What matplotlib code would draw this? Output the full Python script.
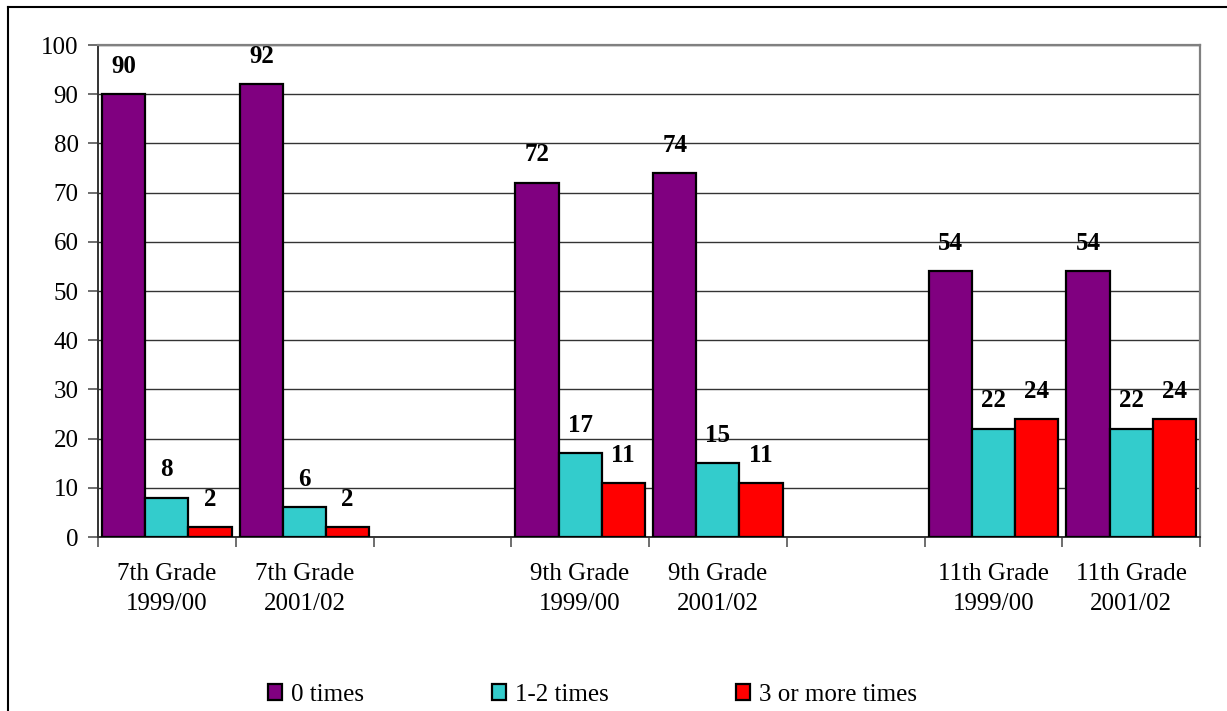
import matplotlib.pyplot as plt
from matplotlib.lines import Line2D
import numpy as np

plt.rcParams['font.family'] = ['Liberation Serif', 'DejaVu Serif']

# 8 slots along x; the empty strings are spacer slots between grades
categories = ["7th Grade\n1999/00", "7th Grade\n2001/02", "",
              "9th Grade\n1999/00", "9th Grade\n2001/02", "",
              "11th Grade\n1999/00", "11th Grade\n2001/02"]
zero_times = [90, 92, None, 72, 74, None, 54, 54]
one_two_times = [8, 6, None, 17, 15, None, 22, 22]
three_plus = [2, 2, None, 11, 11, None, 24, 24]

series = [("0 times", zero_times, "#800080"),
          ("1-2 times", one_two_times, "#33CCCC"),
          ("3 or more times", three_plus, "#FF0000")]

fig = plt.figure(figsize=(12.27, 7.11), dpi=100)
ax = fig.add_axes([98 / 1227, 1 - 537 / 711, 1102 / 1227, 492 / 711])

x = np.arange(len(categories))
w = 0.313
for k, (name, vals, col) in enumerate(series):
    idx = [i for i, v in enumerate(vals) if v is not None]
    v = [vals[i] for i in idx]
    pos = x[idx] + (k - 1) * w
    ax.bar(pos, v, width=w, color=col, edgecolor="black", linewidth=1.6,
           label=name, zorder=3)
    for p, val in zip(pos, v):
        ax.annotate(str(val), (p, val), xytext=(0, 20), textcoords="offset points",
                    ha="center", va="center", fontsize=18, fontweight="bold")

ax.set_xlim(-0.5, len(categories) - 0.5)
ax.set_ylim(0, 100)
ax.set_yticks(range(0, 101, 10))
ax.yaxis.grid(True, color="#333333", linewidth=1.0, zorder=0)
ax.set_xticks(np.arange(-0.5, len(categories), 1.0))
ax.set_xticklabels([])
ax.set_xticks(x, minor=True)
ax.set_xticklabels(categories, minor=True, fontsize=18, linespacing=1.45)
ax.tick_params(axis="x", which="minor", length=0, pad=19)
ax.tick_params(axis="x", which="major", length=7, width=1.2, color="#555555")
ax.tick_params(axis="y", length=7, width=1.2, color="#555555", labelsize=18, pad=7)

for s in ["top", "right"]:
    ax.spines[s].set_color("#808080")
    ax.spines[s].set_linewidth(1.6)
for s in ["left", "bottom"]:
    ax.spines[s].set_color("#333333")
    ax.spines[s].set_linewidth(1.4)

ax.legend(loc="center", bbox_to_anchor=(0.449, -0.321), ncol=3, frameon=False,
          fontsize=18, handlelength=0.56, handleheight=0.56, handletextpad=0.36,
          columnspacing=5.1)

# outer chart border (left and top edges)
fig.add_artist(Line2D([8 / 1227, 8 / 1227], [0, 1 - 7 / 711],
                      transform=fig.transFigure, color="black", linewidth=1.5))
fig.add_artist(Line2D([8 / 1227, 1], [1 - 7 / 711, 1 - 7 / 711],
                      transform=fig.transFigure, color="black", linewidth=1.5))

fig.savefig("out.png", dpi=100)
